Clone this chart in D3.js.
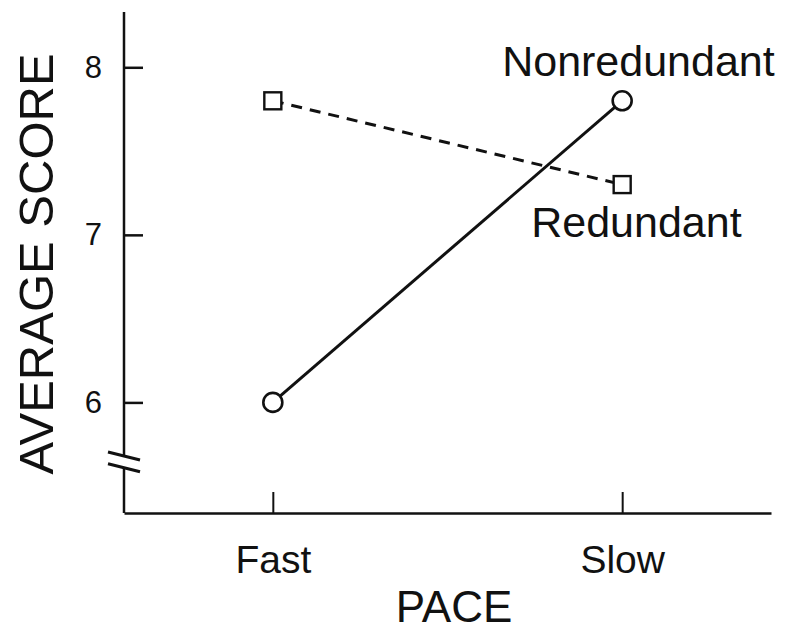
<!DOCTYPE html>
<html>
<head>
<meta charset="utf-8">
<script src="https://cdn.jsdelivr.net/npm/d3@7"></script>
<style>
  body { margin: 0; background: #fff; }
  svg { display: block; }
  text { font-family: "Liberation Sans", Arial, Helvetica, sans-serif; fill: #111; }
</style>
</head>
<body>
<div id="chart"></div>
<script>
// data
var paces = ["Fast", "Slow"];
var nonredundant = [6.0, 7.8];
var redundant = [7.8, 7.3];
var yTicks = [6, 7, 8];
var yDomain = [5.34, 8.33];
var breakAt = [5.68, 5.61]; // the "//" break on the y axis

var width = 786, height = 632;
var plot = {left: 124, right: 771, top: 12, bottom: 513};

var svg = d3.select("#chart").append("svg")
  .attr("width", width)
  .attr("height", height);

var x = d3.scalePoint()
  .domain(paces)
  .range([plot.left, plot.right])
  .padding(0.426);

var y = d3.scaleLinear()
  .domain(yDomain)
  .range([plot.bottom, plot.top]);

// x axis, ticks pointing up into the plot
var xAxis = d3.axisBottom(x)
  .tickSizeInner(-21)
  .tickSizeOuter(0)
  .tickPadding(32);

var gx = svg.append("g")
  .attr("transform", "translate(0," + plot.bottom + ")")
  .call(xAxis);
gx.select(".domain").attr("stroke", "#111").attr("stroke-width", 2.5);
gx.selectAll(".tick line").attr("stroke", "#111").attr("stroke-width", 2);
gx.selectAll(".tick text")
  .style("font-size", "39px")
  .attr("fill", "#111");

// y axis, ticks pointing right, domain drawn by hand because of the break
var yAxis = d3.axisLeft(y)
  .tickValues(yTicks)
  .tickSizeInner(-19)
  .tickSizeOuter(0)
  .tickPadding(22)
  .tickFormat(d3.format("d"));

var gy = svg.append("g")
  .attr("transform", "translate(" + plot.left + ",0)")
  .call(yAxis);
gy.select(".domain").remove();
gy.selectAll(".tick line").attr("stroke", "#111").attr("stroke-width", 2.5);
gy.selectAll(".tick text")
  .style("font-size", "31px")
  .attr("fill", "#111");

var axisSegs = [[yDomain[1], breakAt[0]], [breakAt[1], yDomain[0]]];
gy.selectAll(".seg")
  .data(axisSegs)
  .enter().append("line")
  .attr("class", "seg")
  .attr("x1", 0).attr("x2", 0)
  .attr("y1", function(d) { return y(d[0]); })
  .attr("y2", function(d) { return y(d[1]); })
  .attr("stroke", "#111")
  .attr("stroke-width", 2.5);

gy.selectAll(".brk")
  .data(breakAt)
  .enter().append("line")
  .attr("class", "brk")
  .attr("x1", -16).attr("x2", 16)
  .attr("y1", function(d) { return y(d) - 4; })
  .attr("y2", function(d) { return y(d) + 4; })
  .attr("stroke", "#111")
  .attr("stroke-width", 3);

// lines
var line = d3.line()
  .x(function(d, i) { return x(paces[i]); })
  .y(function(d) { return y(d); });

svg.append("path")
  .datum(redundant)
  .attr("d", line)
  .attr("fill", "none")
  .attr("stroke", "#111")
  .attr("stroke-width", 3)
  .attr("stroke-dasharray", "11,8");

svg.append("path")
  .datum(nonredundant)
  .attr("d", line)
  .attr("fill", "none")
  .attr("stroke", "#111")
  .attr("stroke-width", 3);

// markers
svg.selectAll(".sq")
  .data(redundant)
  .enter().append("rect")
  .attr("class", "sq")
  .attr("x", function(d, i) { return x(paces[i]) - 8.5; })
  .attr("y", function(d) { return y(d) - 8.5; })
  .attr("width", 17)
  .attr("height", 17)
  .attr("fill", "#fff")
  .attr("stroke", "#111")
  .attr("stroke-width", 2.4);

svg.selectAll(".dot")
  .data(nonredundant)
  .enter().append("circle")
  .attr("class", "dot")
  .attr("cx", function(d, i) { return x(paces[i]); })
  .attr("cy", function(d) { return y(d); })
  .attr("r", 9.5)
  .attr("fill", "#fff")
  .attr("stroke", "#111")
  .attr("stroke-width", 2.6);

// series labels next to the slow points
svg.append("text")
  .attr("x", x("Slow") - 120)
  .attr("y", y(nonredundant[1]) - 25)
  .style("font-size", "43px")
  .text("Nonredundant");

svg.append("text")
  .attr("x", x("Slow") - 91)
  .attr("y", y(redundant[1]) + 52)
  .style("font-size", "43px")
  .text("Redundant");

// axis titles
svg.append("text")
  .attr("text-anchor", "middle")
  .attr("x", 454)
  .attr("y", 622)
  .style("font-size", "44px")
  .text("PACE");

svg.append("text")
  .attr("text-anchor", "middle")
  .attr("transform", "translate(53,264) rotate(-90)")
  .style("font-size", "49px")
  .text("AVERAGE SCORE");
</script>
</body>
</html>
